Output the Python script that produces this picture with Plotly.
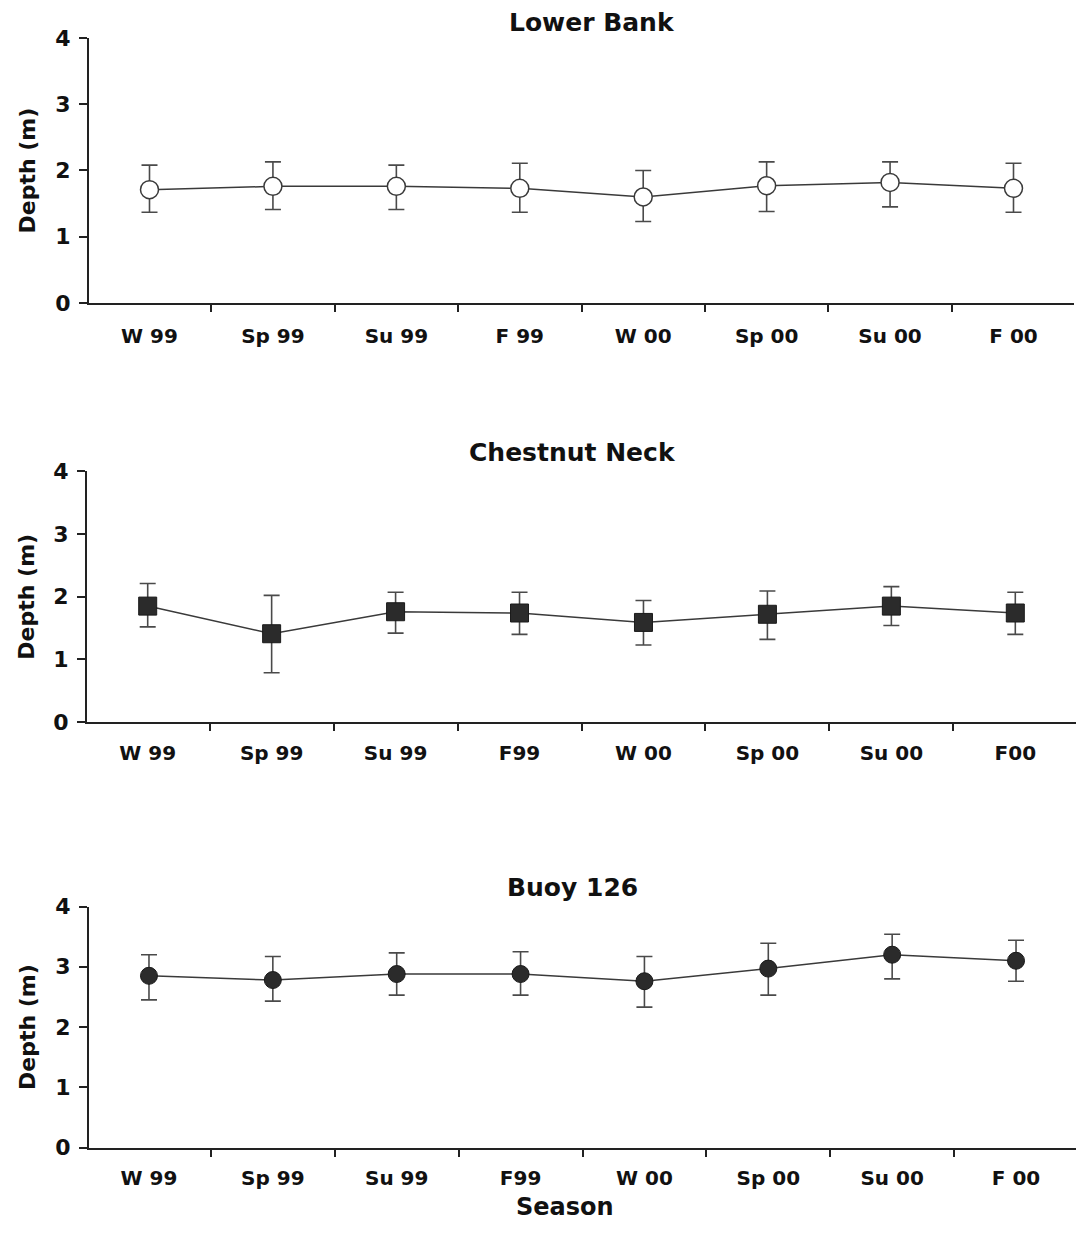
import plotly.graph_objects as go

seasons = ["W 99", "Sp 99", "Su 99", "F 99", "W 00", "Sp 00", "Su 00", "F 00"]
seasons_mid = ["W 99", "Sp 99", "Su 99", "F99", "W 00", "Sp 00", "Su 00", "F00"]
seasons_bot = ["W 99", "Sp 99", "Su 99", "F99", "W 00", "Sp 00", "Su 00", "F 00"]

lower_bank_mean = [1.71, 1.76, 1.76, 1.73, 1.60, 1.77, 1.82, 1.73]
lower_bank_hi = [2.08, 2.13, 2.08, 2.11, 2.00, 2.13, 2.13, 2.11]
lower_bank_lo = [1.37, 1.41, 1.41, 1.37, 1.23, 1.38, 1.45, 1.37]

chestnut_mean = [1.85, 1.41, 1.76, 1.74, 1.59, 1.72, 1.85, 1.74]
chestnut_hi = [2.21, 2.02, 2.07, 2.07, 1.94, 2.09, 2.16, 2.07]
chestnut_lo = [1.52, 0.79, 1.42, 1.40, 1.23, 1.32, 1.54, 1.40]

buoy_mean = [2.85, 2.78, 2.88, 2.88, 2.76, 2.97, 3.20, 3.10]
buoy_hi = [3.20, 3.17, 3.23, 3.25, 3.17, 3.39, 3.54, 3.44]
buoy_lo = [2.45, 2.43, 2.53, 2.53, 2.33, 2.53, 2.80, 2.76]

y_ticks = [0, 1, 2, 3, 4]
titles = ["Lower Bank", "Chestnut Neck", "Buoy 126"]

W, H = 1076, 1235
FONT = "DejaVu Sans, Liberation Sans, Arial, sans-serif"
LINE = "#3a3a3a"
ERR = "#4a4a4a"
DARK = "#2b2b2b"

panels = [
    dict(x=seasons, mean=lower_bank_mean, hi=lower_bank_hi, lo=lower_bank_lo,
         marker=dict(symbol="circle", size=18, color="white", line=dict(color=LINE, width=1.5)),
         top=26.5, bottom=297, left=89, right=1074, title_xy=(592, 10.5), standoff=14),
    dict(x=seasons_mid, mean=chestnut_mean, hi=chestnut_hi, lo=chestnut_lo,
         marker=dict(symbol="square", size=18, color=DARK, line=dict(color="#1a1a1a", width=1)),
         top=468.5, bottom=725, left=87, right=1076, title_xy=(572, 450), standoff=12),
    dict(x=seasons_bot, mean=buoy_mean, hi=buoy_hi, lo=buoy_lo,
         marker=dict(symbol="circle", size=17, color=DARK, line=dict(color="#1a1a1a", width=1)),
         top=913, bottom=1159, left=89, right=1076, title_xy=(572, 894), standoff=11),
]

fig = go.Figure()
annotations = []
for i, p in enumerate(panels, start=1):
    xa = "x" if i == 1 else f"x{i}"
    ya = "y" if i == 1 else f"y{i}"
    plus = [h - m for h, m in zip(p["hi"], p["mean"])]
    minus = [m - l for m, l in zip(p["mean"], p["lo"])]
    fig.add_trace(go.Scatter(
        x=p["x"], y=p["mean"], mode="lines+markers",
        line=dict(color=LINE, width=1.5),
        marker=p["marker"],
        error_y=dict(type="data", symmetric=False, array=plus, arrayminus=minus,
                     color=ERR, thickness=1.6, width=8),
        xaxis=xa, yaxis=ya, showlegend=False, cliponaxis=False,
    ))
    xkey = "xaxis" if i == 1 else f"xaxis{i}"
    ykey = "yaxis" if i == 1 else f"yaxis{i}"
    fig.update_layout(**{
        xkey: dict(
            domain=[p["left"] / W, p["right"] / W], anchor=ya, type="category",
            tickson="boundaries", ticks="outside", ticklen=7, tickwidth=2, tickcolor="#222",
            showline=True, linecolor="#222", linewidth=2, showgrid=False, zeroline=False,
            tickfont=dict(family=FONT, size=20, color="#111", weight="bold"),
            ticklabelstandoff=p["standoff"], fixedrange=True,
        ),
        ykey: dict(
            domain=[1 - p["bottom"] / H, 1 - p["top"] / H], anchor=xa, range=[0, 4],
            tickvals=y_ticks, ticks="outside", ticklen=8, tickwidth=2, tickcolor="#222",
            showline=True, linecolor="#222", linewidth=2, showgrid=False, zeroline=False,
            tickfont=dict(family=FONT, size=22, color="#111", weight="bold"), ticklabelstandoff=4,
            fixedrange=True,
        ),
    })
    tx, ty = p["title_xy"]
    annotations.append(dict(text=f"<b>{titles[i-1]}</b>", x=tx / W, y=1 - ty / H,
                            xref="paper", yref="paper", showarrow=False,
                            xanchor="center", yanchor="middle",
                            font=dict(family=FONT, size=25, color="#111")))
    annotations.append(dict(text="<b>Depth (m)</b>", x=27 / W,
                            y=1 - (p["top"] + p["bottom"]) / 2 / H,
                            xref="paper", yref="paper", showarrow=False, textangle=-90,
                            xanchor="center", yanchor="middle",
                            font=dict(family=FONT, size=22, color="#111")))

annotations.append(dict(text="<b>Season</b>", x=565 / W, y=0,
                        xref="paper", yref="paper", showarrow=False,
                        xanchor="center", yanchor="bottom", borderpad=0,
                        font=dict(family=FONT, size=24, color="#111")))

fig.update_layout(
    width=W, height=H, margin=dict(l=0, r=0, t=0, b=0),
    paper_bgcolor="white", plot_bgcolor="white",
    annotations=annotations, showlegend=False,
)

fig.write_html("out.html")
